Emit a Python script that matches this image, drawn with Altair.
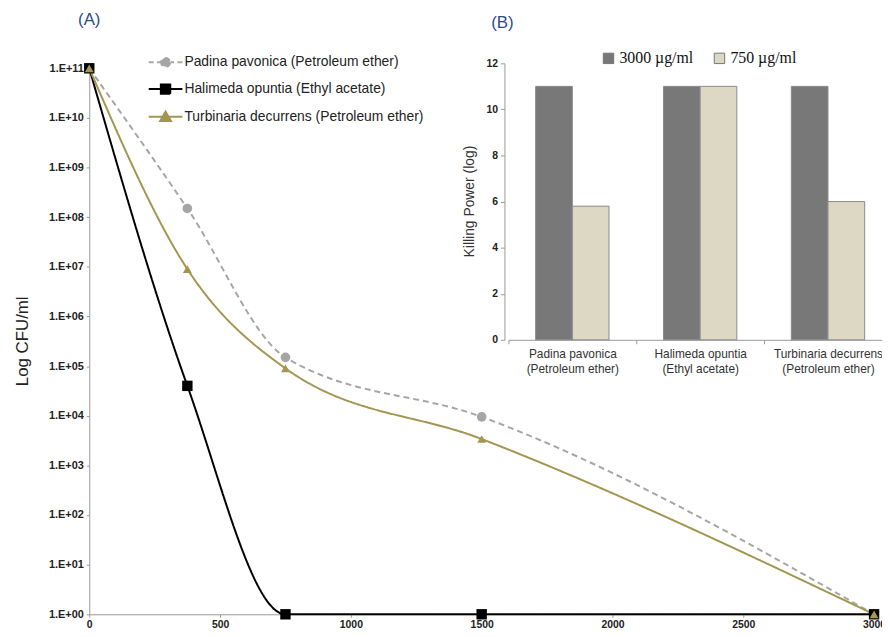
import altair as alt
import pandas as pd

# ---- data (A) ----
concentrations = [0, 375, 750, 1500, 3000]
series_names = ["Padina pavonica (Petroleum ether)",
                "Halimeda opuntia (Ethyl acetate)",
                "Turbinaria decurrens (Petroleum ether)"]
padina = [1e11, 1.5e8, 1.5e5, 9.5e3, 1]
halimeda = [1e11, 4e4, 1, 1, 1]
turbinaria = [1e11, 9e6, 9e4, 3.4e3, 1]

# ---- data (B) ----
bar_categories = ["Padina pavonica (Petroleum ether)",
                  "Halimeda opuntia (Ethyl acetate)",
                  "Turbinaria decurrens (Petroleum ether)"]
dose_names = ["3000 µg/ml", "750 µg/ml"]
kp_3000 = [11, 11, 11]
kp_750 = [5.8, 11, 6.0]

rows = []
for name, vals in zip(series_names, [padina, halimeda, turbinaria]):
    for c, v in zip(concentrations, vals):
        rows.append({"conc": c, "cfu": v, "series": name})
df = pd.DataFrame(rows)

brows = []
for cat, a, b in zip(bar_categories, kp_3000, kp_750):
    brows.append({"cat": cat, "dose": dose_names[0], "kp": a})
    brows.append({"cat": cat, "dose": dose_names[1], "kp": b})
bdf = pd.DataFrame(brows)

colors = ["#a6a6a6", "#000000", "#a39650"]
FONT = "Liberation Sans"

xscale = alt.Scale(domain=[0, 3000], nice=False)
yscale = alt.Scale(type="log", domain=[1, 1e11], nice=False)
fill_scale = alt.Scale(domain=series_names, range=colors)
stroke_scale = alt.Scale(domain=series_names, range=colors)
dash_scale = alt.Scale(domain=series_names, range=[[6, 4], [1, 0], [1, 0]])
legend_paths = [
    "M-3.4,0H-2.4M-1.7,0H-1.0M1.0,0H1.7M2.4,0H3.4M0.9,0A0.9,0.9,0,1,1,-0.9,0A0.9,0.9,0,1,1,0.9,0Z",
    "M-3.4,0H3.4M-0.95,-0.95H0.95V0.95H-0.95Z",
    "M-3.4,0H3.4M0,-1.05L1.1,0.85H-1.1Z",
]
shape_scale = alt.Scale(domain=series_names, range=legend_paths)

x_enc = alt.X("conc:Q", scale=xscale, axis=alt.Axis(
    orient="bottom", values=[0, 500, 1000, 1500, 2000, 2500, 3000], title=None,
    format="d", grid=False, labelFont=FONT, labelFontSize=10.5, labelFontWeight="bold",
    labelColor="#222", tickSize=3, tickColor="#999", domainColor="#999",
    labelPadding=2, labelFlush=False))
y_enc = alt.Y("cfu:Q", scale=yscale, axis=alt.Axis(
    orient="left", values=[10.0 ** k for k in range(12)], title="Log CFU/ml",
    labelExpr="'1.E+' + (round(log(datum.value)/LN10) < 10 ? '0' : '') + round(log(datum.value)/LN10)",
    grid=False, labelFont=FONT, labelFontSize=11, labelFontWeight="bold",
    labelColor="#222", tickSize=3, tickColor="#999", domainColor="#999",
    labelPadding=3, titleFont=FONT, titleFontSize=17, titleFontWeight="normal",
    titleColor="#222", titleX=-58, titleY=275))

base = alt.Chart(df)

legA = alt.Legend(title=None, orient="none", legendX=70, legendY=-13,
                  symbolSize=100, symbolStrokeWidth=2, symbolOpacity=1,
                  labelOffset=12, labelFont=FONT, labelFontSize=14,
                  labelColor="#222", rowPadding=9, padding=0, labelLimit=400)

# legend-only layer (invisible marks), listed first so its legend wins
driver = base.mark_point(
    filled=True, opacity=0, strokeWidth=2).encode(
    x=x_enc, y=y_enc,
    fill=alt.Fill("series:N", scale=fill_scale, legend=legA),
    stroke=alt.Stroke("series:N", scale=stroke_scale, legend=legA),
    shape=alt.Shape("series:N", scale=shape_scale, legend=legA),
)

lines = base.mark_line(interpolate="monotone", strokeWidth=2).encode(
    x=x_enc, y=y_enc,
    stroke=alt.Stroke("series:N", scale=stroke_scale),
    strokeDash=alt.StrokeDash("series:N", scale=dash_scale, legend=None),
    order=alt.Order("conc:Q"),
)

def pts(name, shape, size):
    return base.transform_filter(alt.datum.series == name).mark_point(
        filled=True, opacity=1, shape=shape, size=size, strokeWidth=0
    ).encode(x=x_enc, y=y_enc,
             fill=alt.Fill("series:N", scale=fill_scale))

main = alt.layer(driver, lines, pts(series_names[0], "circle", 95),
                 pts(series_names[1], "square", 110),
                 pts(series_names[2], "triangle-up", 80))

# ---- inset (B) ----
legB = alt.Legend(title=None, orient="none", direction="horizontal",
                  legendX=516, legendY=-18, symbolType="square", symbolSize=110,
                  symbolStrokeColor="#777", symbolStrokeWidth=1,
                  labelFont="Liberation Serif", labelFontSize=16,
                  labelColor="#111", columnPadding=18, labelOffset=3, padding=0)

inset = alt.Chart(bdf).mark_bar(stroke="#8a8a8a", strokeWidth=1).encode(
    x=alt.X("cat:N", sort=bar_categories,
            scale=alt.Scale(domain=bar_categories, range=[423, 810],
                            paddingInner=0, paddingOuter=0),
            axis=alt.Axis(orient="bottom", offset=-277, title=None,
                          labelExpr="indexof(datum.label + '', ' (') > 0 ? [split(datum.label, ' (')[0], '(' + split(datum.label, ' (')[1]] : ''",
                          labelAngle=0, labelFont=FONT, labelFontSize=12,
                          labelColor="#333", tickBand="extent", tickSize=4,
                          tickColor="#999", domainColor="#999",
                          labelPadding=5, labelLineHeight=15, labelLimit=200)),
    xOffset=alt.XOffset("dose:N", sort=dose_names,
                        scale=alt.Scale(domain=dose_names, paddingInner=0,
                                        paddingOuter=0.743)),
    y=alt.Y("kp:Q", scale=alt.Scale(domain=[0, 12], range=[274, -5], nice=False),
            axis=alt.Axis(orient="left", offset=-419, values=[0, 2, 4, 6, 8, 10, 12],
                          title="Killing Power (log)", grid=False, labelFont=FONT,
                          labelFontSize=10.5, labelFontWeight="bold", labelColor="#222",
                          tickSize=4, tickColor="#999", domainColor="#999",
                          labelPadding=3, titleFont=FONT, titleFontSize=14,
                          titleFontWeight="normal", titleColor="#333",
                          titleX=-28, titleY=134)),
    color=alt.Color("dose:N", sort=dose_names,
                    scale=alt.Scale(domain=dose_names, range=["#787878", "#ddd8c3"]),
                    legend=legB),
)

textA = alt.Chart(alt.Data(values=[{"t": "(A)"}])).mark_text(
    font=FONT, fontSize=17, color="#2f4a8a").encode(
    text="t:N", x=alt.value(0), y=alt.value(-49))
textB = alt.Chart(alt.Data(values=[{"t": "(B)"}])).mark_text(
    font=FONT, fontSize=17, color="#2f4a8a").encode(
    text="t:N", x=alt.value(417), y=alt.value(-46))

chart = alt.layer(main, inset, textA, textB).resolve_scale(
    x="independent", y="independent", color="independent"
).properties(
    width=792, height=551,
    autosize=alt.AutoSizeParams(type="none"),
    padding={"left": 82, "top": 58, "right": 8, "bottom": 12},
).configure_view(stroke=None)

chart.save("out.html", embed_options={"renderer": "svg", "actions": False})
